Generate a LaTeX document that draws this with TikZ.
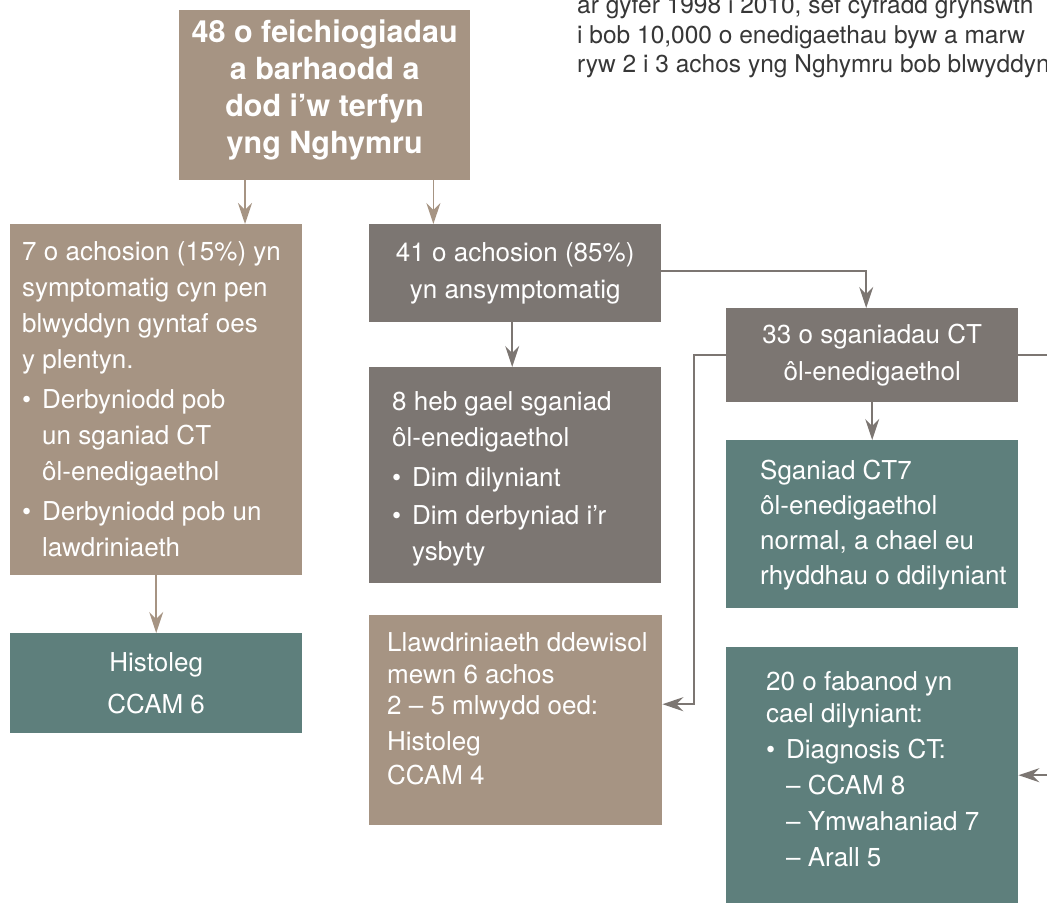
\documentclass[tikz,border=0pt]{standalone}
\usepackage{fontspec}
\setmainfont{TeX Gyre Heros}
\usetikzlibrary{arrows.meta}
\definecolor{tanC}{RGB}{166,148,131}
\definecolor{grayC}{RGB}{124,118,114}
\definecolor{tealC}{RGB}{94,127,124}
\definecolor{darkT}{RGB}{55,55,55}
\newcommand\mybul{\makebox[20pt][l]{\textbullet}}
\newcommand\myind{\hspace*{20pt}}
\begin{document}
\begin{tikzpicture}[x=1pt,y=-1pt,
  boxbase/.style={inner sep=0pt, anchor=north west, minimum width=292pt},
  tanbox/.style={boxbase, fill=tanC},
  graybox/.style={boxbase, fill=grayC},
  tealbox/.style={boxbase, fill=tealC},
  ctext/.style={text=white, align=center, font=\fontsize{26}{37}\selectfont},
  ltext/.style={inner sep=0pt, anchor=north west, align=left, text=white, font=\fontsize{26}{36}\selectfont},
  toptext/.style={inner sep=0pt, anchor=base west, text=darkT, font=\fontsize{24.5}{29}\selectfont},
  tip/.style={-{Stealth[length=21pt,width=14pt,inset=7pt]}},
  tanarrow/.style={tip, draw=tanC, line width=1.5pt},
  grayarrow/.style={tip, draw=grayC, line width=1.5pt}
]
\clip (0,0) rectangle (1047,905);
\fill[white] (0,0) rectangle (1047,905);

% top-right paragraph fragment
\node[toptext] (t1) at (577,13) {ar gyfer 1998 i 2010, sef cyfradd grynswth};
\node[toptext] (t2) at (577,43) {i bob 10,000 o enedigaethau byw a marw};
\node[toptext] (t3) at (577,72) {ryw 2 i 3 achos yng Nghymru bob blwyddyn};

% boxes
\node[tanbox, minimum width=291pt, minimum height=170pt] (top) at (179,10) {};
\node[inner sep=0pt, text=white, align=center,
      font=\fontsize{30.5}{37}\bfseries\selectfont] (topT) at ([yshift=5pt]top.center)
  {48 o feichiogiadau\\a barhaodd a\\dod i’w terfyn\\yng Nghymru};

\node[tanbox, minimum height=351pt] (left) at (10,224) {};
\node[ltext] (leftT) at ([xshift=12pt,yshift=-17pt]left.north west)
  {7 o achosion (15\%) yn\\
   symptomatig cyn pen\\
   blwyddyn gyntaf oes\\
   y plentyn.\\[4pt]
   \mybul Derbyniodd pob\\
   \myind un sganiad CT\\
   \myind ôl-enedigaethol\\[4pt]
   \mybul Derbyniodd pob un\\
   \myind lawdriniaeth};

\node[graybox, minimum height=98pt, ctext] (a41) at (369,224)
  {41 o achosion (85\%)\\yn ansymptomatig};

\node[graybox, minimum height=216pt] (b8) at (369,367) {};
\node[ltext] (b8T) at ([xshift=23pt,yshift=-24pt]b8.north west)
  {8 heb gael sganiad\\
   ôl-enedigaethol\\[4pt]
   \mybul Dim dilyniant\\[2pt]
   \mybul Dim derbyniad i’r\\
   \myind ysbyty};

\node[tealbox, minimum height=100pt, ctext, font=\fontsize{26}{42}\selectfont] (hist) at (10,633)
  {Histoleg\\CCAM 6};

\node[tanbox, minimum width=293pt, minimum height=210pt] (llaw) at (369,615) {};
\node[ltext] (llawT) at ([xshift=18pt,yshift=-17pt]llaw.north west)
  {Llawdriniaeth ddewisol\\[-4pt]
   mewn 6 achos\\[-5pt]
   2 – 5 mlwydd oed:\\
   Histoleg\\[-2pt]
   CCAM 4};

\node[graybox, minimum height=94pt, ctext] (s33) at (726,308)
  {33 o sganiadau CT\\ôl-enedigaethol};

\node[tealbox, minimum height=168pt] (sgan) at (726,440) {};
\node[ltext] (sganT) at ([xshift=34pt,yshift=-20pt]sgan.north west)
  {Sganiad CT7\\[-1pt]
   ôl-enedigaethol\\[-1pt]
   normal, a chael eu\\[-1pt]
   rhyddhau o ddilyniant};

\node[tealbox, minimum height=256pt] (f20) at (726,647) {};
\node[ltext] (f20T) at ([xshift=40pt,yshift=-24pt]f20.north west)
  {20 o fabanod yn\\[-4pt]
   cael dilyniant:\\
   \mybul Diagnosis CT:\\
   \myind – CCAM 8\\
   \myind – Ymwahaniad 7\\
   \myind – Arall 5};

% connectors
\draw[tanarrow] ([xshift=66pt]top.south west) -- ([xshift=66pt]top.south west |- left.north);
\draw[tanarrow] ([xshift=-37pt]top.south east) -- ([xshift=-37pt]top.south east |- a41.north);
\draw[tanarrow] (left.south) -- (hist.north);
\draw[grayarrow] ([xshift=-3pt]a41.south) -- ([xshift=-3pt]a41.south |- b8.north);
\draw[grayarrow] ([yshift=2pt]a41.east) -| ([xshift=-6pt]s33.north);
\draw[grayarrow] (s33.south) -- (sgan.north);
\coordinate (k1) at ([xshift=-32pt]s33.west);
\draw[grayarrow] (s33.west) -- (k1) |- ([yshift=16pt]llaw.east);
\coordinate (k2) at ([xshift=50pt]s33.east);
\draw[grayarrow] (s33.east) -- (k2) |- (f20.east);
\end{tikzpicture}
\end{document}
